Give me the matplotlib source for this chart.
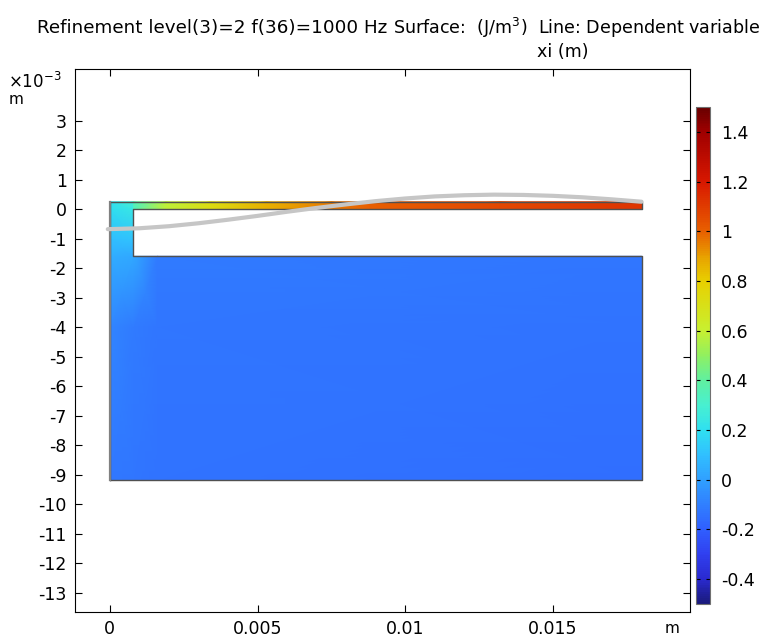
import numpy as np
import matplotlib.pyplot as plt
from matplotlib.colors import LinearSegmentedColormap, Normalize
from matplotlib.cm import ScalarMappable

# geometry (m)
x_left, x_strip, x_right = 0.0, 0.0008, 0.018
y_top, y_beam, y_gap, y_bottom = 0.25e-3, 0.0, -1.6e-3, -9.2e-3

# surface values (J/m^3) along the beam
beam_x = [0.0008, 0.0019, 0.0034, 0.0053, 0.0075, 0.0088, 0.0132, 0.018]
beam_v = [0.34, 0.58, 0.72, 0.86, 0.96, 1.0, 1.07, 1.12]

# left strip above the gap: rows y, columns x
strip_x = [0.0, 0.0008]
strip_y = [-1.6e-3, -1.0e-3, 0.0, 0.25e-3]
strip_v = [[0.04, 0.03],
           [0.10, 0.11],
           [0.19, 0.24],
           [0.21, 0.30]]

# lower block
block_x = [0.0, 0.0008, 0.0016, 0.018]
block_y = [-9.2e-3, -4.0e-3, -1.6e-3]
block_v = [[-0.12, -0.13, -0.14, -0.15],
           [-0.08, -0.11, -0.13, -0.14],
           [0.04, 0.03, -0.11, -0.13]]

# line: dependent variable xi (m)
xi_x = [-0.00007, 0.001, 0.002, 0.003, 0.004, 0.005, 0.006, 0.007, 0.008, 0.009,
        0.010, 0.011, 0.012, 0.013, 0.014, 0.015, 0.016, 0.017, 0.018]
xi_y = [-0.68, -0.65, -0.58, -0.48, -0.36, -0.23, -0.09, 0.04, 0.16, 0.27,
        0.36, 0.43, 0.47, 0.49, 0.48, 0.45, 0.40, 0.33, 0.25]

xticks = [0, 0.005, 0.01, 0.015]
yticks = list(range(-13, 4))
cbar_ticks = [-0.4, -0.2, 0, 0.2, 0.4, 0.6, 0.8, 1, 1.2, 1.4]

rainbow = LinearSegmentedColormap.from_list("rainbow_light", [
    (0.00, "#1a1a7c"), (0.05, "#2a2ad0"), (0.10, "#3040f0"), (0.15, "#3060ff"),
    (0.20, "#3080ff"), (0.25, "#30a0ff"), (0.30, "#30c0ff"), (0.35, "#30e0f0"),
    (0.40, "#48f0d0"), (0.45, "#60f0a0"), (0.50, "#90f060"), (0.55, "#c8f030"),
    (0.65, "#e8d000"), (0.70, "#e8a000"), (0.75, "#e86000"), (0.85, "#d81800"),
    (0.95, "#a00000"), (1.00, "#6a0000")])
norm = Normalize(-0.5, 1.5)

fig = plt.figure(figsize=(7.64, 6.37), dpi=100)
ax = fig.add_axes([75/764, 1-612/637, 615/764, 543/637])

def patch(xs, ys, vals):
    X, Y = np.meshgrid(xs, ys)
    ax.pcolormesh(X, Y, np.array(vals), cmap=rainbow, norm=norm, shading="gouraud")

patch(block_x, block_y, block_v)
patch(strip_x, strip_y, strip_v)
patch(beam_x, [y_beam, y_top], [beam_v, beam_v])

outline_x = [x_left, x_right, x_right, x_strip, x_strip, x_right, x_right, x_left, x_left]
outline_y = [y_bottom, y_bottom, y_gap, y_gap, y_beam, y_beam, y_top, y_top, y_bottom]
ax.plot(outline_x, outline_y, color="#505050", lw=1.0)
ax.plot([x_left, x_left], [y_bottom, y_top], color="#808080", lw=1.6)

ax.plot(xi_x, np.array(xi_y) * 1e-3, color="#c6c6c6", lw=3, solid_capstyle="round")

ax.set_xlim(-0.00118, 0.01964)
ax.set_ylim(-13.66e-3, 4.75e-3)
ax.set_xticks(xticks)
ax.set_xticklabels(["0", "0.005", "0.01", "0.015"])
ax.set_yticks([t * 1e-3 for t in yticks])
ax.set_yticklabels([str(t) for t in yticks])
ax.tick_params(direction="in", length=5, top=True, right=True, labelsize=12.5, pad=6)
for s in ax.spines.values():
    s.set_linewidth(0.8)

fig.text(8/764, 1-88/637, r"$\times$10$^{-3}$", fontsize=12)
fig.text(9/764, 1-104/637, "m", fontsize=11)
fig.text(665/764, 1-633/637, "m", fontsize=11)

fig.text(37/764, 1-33/637, "Refinement level(3)=2 f(36)=1000 Hz", fontsize=13.2)
fig.text(393/764, 1-34/637, r"Surface:  (J/m$^3$)  Line: Dependent variable", fontsize=12.6)
fig.text(537/764, 1-57/637, "xi (m)", fontsize=12.6)

cax = fig.add_axes([696/764, 1-604/637, 14/764, 497/637])
cb = fig.colorbar(ScalarMappable(norm=norm, cmap=rainbow), cax=cax)
cb.set_ticks(cbar_ticks)
cb.set_ticklabels(["-0.4", "-0.2", "0", "0.2", "0.4", "0.6", "0.8", "1", "1.2", "1.4"])
cax.tick_params(direction="in", length=3, left=True, right=True, labelsize=12.5, pad=8)
cb.outline.set_edgecolor("#707070")

fig.savefig("out.png", dpi=100)
